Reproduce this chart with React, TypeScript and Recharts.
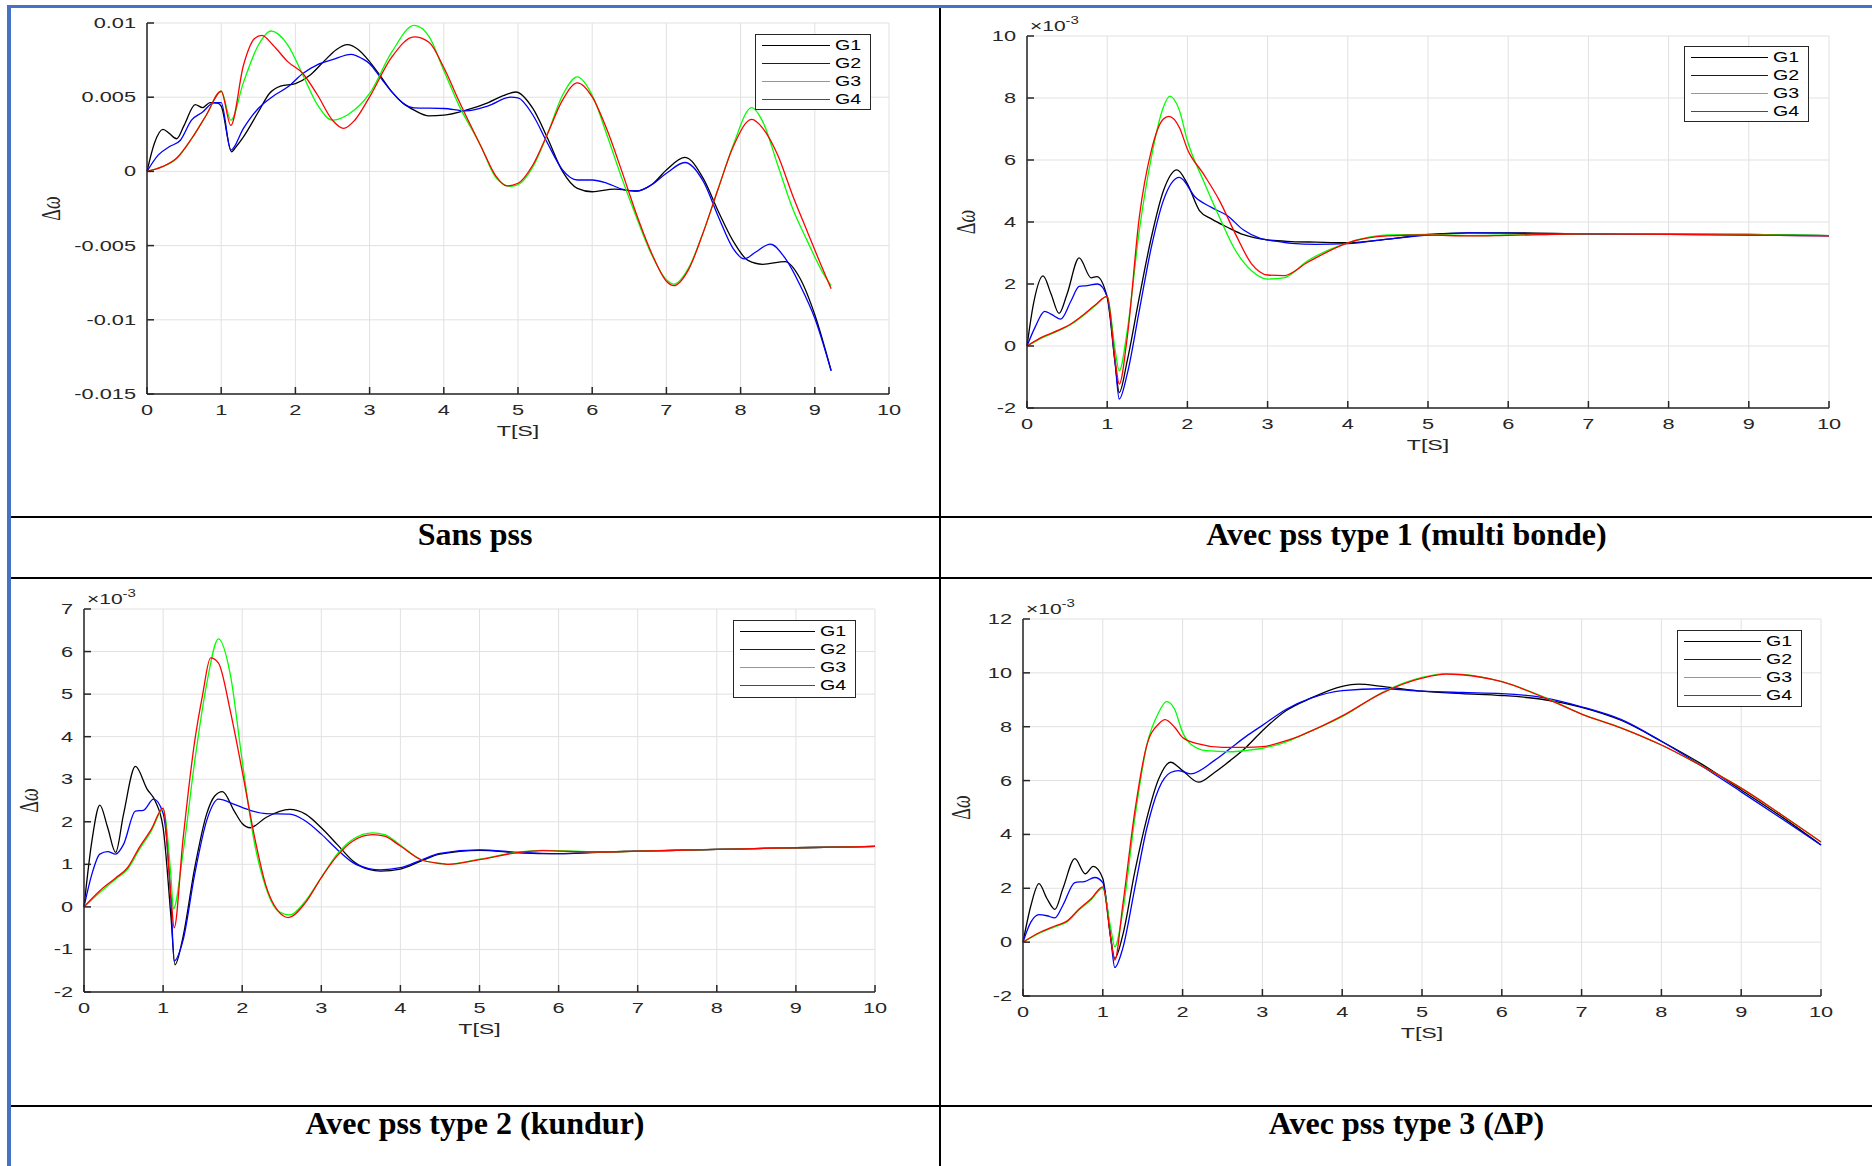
import React from 'react';
import { LineChart, Line, XAxis, YAxis, CartesianGrid, Legend } from 'recharts';

type Pt = [number, number];

const timeTicks = [0, 1, 2, 3, 4, 5, 6, 7, 8, 9, 10];
const genNames = ['G1', 'G2', 'G3', 'G4'];
const genColors = ['#000000', '#0000ff', '#00ff00', '#ff0000'];

// Sans pss : delta omega (pu)
const sansG1: Pt[] = [[0,0],[0.1,0.0019],[0.215,0.00283],[0.3,0.00256],[0.4,0.0022],[0.5,0.0031],[0.65,0.0045],[0.75,0.0043],[0.85,0.00464],[0.95,0.0046],[1.0,0.0044],[1.14,0.00132],[1.2,0.00166],[1.3,0.00233],[1.5,0.004],[1.65,0.00525],[1.8,0.00574],[2.0,0.00592],[2.2,0.0065],[2.4,0.0075],[2.55,0.0082],[2.7,0.00854],[2.85,0.0082],[3.0,0.0074],[3.15,0.0064],[3.3,0.00536],[3.45,0.0046],[3.6,0.00413],[3.8,0.00374],[4.0,0.00379],[4.3,0.00413],[4.6,0.00464],[4.8,0.0051],[4.97,0.00535],[5.2,0.00424],[5.4,0.00222],[5.6,0.0],[5.8,-0.00114],[6.0,-0.00137],[6.3,-0.00119],[6.6,-0.00132],[6.8,-0.0009],[7.0,0.0001],[7.25,0.00094],[7.5,-0.0005],[7.7,-0.0027],[7.9,-0.0047],[8.1,-0.006],[8.3,-0.00626],[8.6,-0.00608],[8.8,-0.0072],[9.0,-0.00966],[9.22,-0.01343]];
const sansG2: Pt[] = [[0,0],[0.15,0.0011],[0.3,0.00166],[0.45,0.0021],[0.6,0.00345],[0.75,0.004],[0.9,0.00464],[1.0,0.00464],[1.13,0.00143],[1.3,0.0029],[1.5,0.00424],[1.7,0.00507],[1.9,0.0057],[2.1,0.0066],[2.3,0.0072],[2.5,0.00753],[2.75,0.00789],[2.9,0.0076],[3.0,0.00726],[3.15,0.0063],[3.3,0.00536],[3.45,0.0046],[3.6,0.00428],[4.0,0.00424],[4.3,0.00408],[4.6,0.00442],[4.9,0.005],[5.0,0.00496],[5.2,0.0038],[5.4,0.00188],[5.6,0.0001],[5.8,-0.00058],[6.0,-0.00058],[6.2,-0.0008],[6.4,-0.00119],[6.6,-0.00132],[6.8,-0.0009],[7.0,-0.00013],[7.25,0.0006],[7.5,-0.0007],[7.7,-0.00305],[7.9,-0.0052],[8.05,-0.0059],[8.2,-0.00545],[8.4,-0.0049],[8.6,-0.00585],[8.8,-0.00765],[9.0,-0.0099],[9.22,-0.01343]];
const sansG3: Pt[] = [[0,0],[0.2,0.0003],[0.4,0.00087],[0.6,0.0022],[0.8,0.0038],[1.0,0.0054],[1.13,0.00345],[1.3,0.006],[1.5,0.0085],[1.67,0.00946],[1.9,0.0085],[2.1,0.0065],[2.3,0.00446],[2.5,0.00345],[2.7,0.0038],[3.0,0.00525],[3.3,0.00805],[3.6,0.00984],[3.8,0.0091],[4.0,0.0068],[4.2,0.0045],[4.5,0.0017],[4.7,-0.0004],[4.9,-0.001],[5.0,-0.0009],[5.2,0.0003],[5.4,0.00256],[5.6,0.00513],[5.8,0.00637],[6.0,0.00513],[6.2,0.00244],[6.4,-0.00047],[6.6,-0.00314],[6.8,-0.0056],[7.0,-0.0073],[7.1,-0.0076],[7.3,-0.0065],[7.5,-0.00406],[7.7,-0.00114],[7.9,0.00177],[8.15,0.0043],[8.3,0.00334],[8.5,0.00043],[8.7,-0.00249],[8.9,-0.0047],[9.1,-0.00675],[9.22,-0.0077]];
const sansG4: Pt[] = [[0,0],[0.2,0.0003],[0.4,0.0009],[0.6,0.0022],[0.8,0.0038],[1.0,0.0054],[1.13,0.0031],[1.3,0.00715],[1.45,0.00895],[1.55,0.00917],[1.7,0.0085],[1.9,0.00738],[2.1,0.0066],[2.3,0.00513],[2.5,0.00345],[2.65,0.0029],[2.8,0.00345],[3.0,0.00502],[3.3,0.00771],[3.6,0.00906],[3.8,0.0087],[4.0,0.007],[4.2,0.0048],[4.5,0.0017],[4.7,-0.0003],[4.85,-0.00098],[5.0,-0.0008],[5.2,0.00043],[5.4,0.00256],[5.6,0.0048],[5.8,0.00597],[6.0,0.00502],[6.2,0.0028],[6.4,0.0],[6.6,-0.00294],[6.8,-0.0055],[7.0,-0.0074],[7.1,-0.0077],[7.3,-0.0066],[7.5,-0.00406],[7.7,-0.00114],[7.9,0.00166],[8.15,0.0035],[8.3,0.0029],[8.5,0.0011],[8.7,-0.0016],[8.9,-0.00406],[9.1,-0.0065],[9.22,-0.0079]];

// PSS type 1 (multi bande), x 10^-3
const type1G1: Pt[] = [[0,0],[0.08,1.35],[0.2,2.26],[0.3,1.68],[0.4,1.05],[0.5,1.68],[0.65,2.84],[0.8,2.2],[0.87,2.24],[1.0,1.57],[1.1,-0.58],[1.15,-1.5],[1.25,-0.47],[1.4,1.57],[1.55,3.5],[1.7,5.0],[1.87,5.68],[2.0,5.23],[2.15,4.37],[2.3,4.1],[2.5,3.83],[2.7,3.59],[3.0,3.42],[3.3,3.37],[3.6,3.35],[4.0,3.33],[4.5,3.45],[5.0,3.6],[5.5,3.65],[6.0,3.65],[7.0,3.62],[8.0,3.61],[9.0,3.6],[10,3.56]];
const type1G2: Pt[] = [[0,0],[0.1,0.6],[0.22,1.12],[0.3,1.03],[0.42,0.87],[0.55,1.46],[0.65,1.92],[0.75,1.95],[0.88,2.0],[1.0,1.6],[1.1,-0.58],[1.15,-1.71],[1.25,-0.9],[1.4,1.14],[1.55,3.18],[1.7,4.69],[1.9,5.44],[2.1,4.8],[2.3,4.47],[2.5,4.2],[2.7,3.74],[2.9,3.48],[3.1,3.38],[3.3,3.31],[3.6,3.28],[4.0,3.3],[4.5,3.45],[5.0,3.58],[5.5,3.65],[6.0,3.64],[7.0,3.6],[8.0,3.6],[9.0,3.58],[10,3.55]];
const type1G3: Pt[] = [[0,0],[0.2,0.28],[0.4,0.5],[0.55,0.7],[0.7,0.98],[0.85,1.3],[1.0,1.6],[1.1,-0.15],[1.15,-0.8],[1.25,0.5],[1.4,3.72],[1.55,6.08],[1.7,7.7],[1.78,8.06],[1.9,7.6],[2.0,6.62],[2.2,5.33],[2.4,4.15],[2.6,3.08],[2.8,2.43],[3.0,2.16],[3.2,2.2],[3.5,2.75],[4.0,3.33],[4.5,3.58],[5.0,3.6],[5.5,3.56],[6.0,3.58],[7.0,3.62],[8.0,3.61],[9.0,3.6],[10,3.56]];
const type1G4: Pt[] = [[0,0],[0.2,0.3],[0.4,0.52],[0.55,0.72],[0.7,1.0],[0.85,1.32],[1.0,1.6],[1.1,-0.47],[1.15,-1.23],[1.25,0.28],[1.4,4.15],[1.55,6.3],[1.7,7.32],[1.77,7.41],[1.9,7.05],[2.0,6.35],[2.2,5.55],[2.4,4.69],[2.6,3.61],[2.8,2.65],[3.0,2.29],[3.2,2.27],[3.5,2.7],[4.0,3.33],[4.5,3.55],[5.0,3.58],[5.5,3.55],[6.0,3.57],[7.0,3.62],[8.0,3.6],[9.0,3.58],[10,3.55]];

// PSS type 2 (Kundur), x 10^-3
const type2G1: Pt[] = [[0,0],[0.1,1.55],[0.2,2.39],[0.3,1.86],[0.4,1.28],[0.5,2.18],[0.65,3.3],[0.8,2.76],[0.9,2.49],[1.0,1.86],[1.1,-0.25],[1.15,-1.36],[1.25,-0.72],[1.4,0.92],[1.55,2.18],[1.65,2.6],[1.75,2.71],[1.9,2.25],[2.0,1.96],[2.1,1.86],[2.3,2.1],[2.6,2.29],[2.8,2.18],[3.0,1.86],[3.2,1.47],[3.4,1.08],[3.6,0.88],[3.75,0.84],[4.0,0.89],[4.25,1.07],[4.5,1.24],[5.0,1.33],[5.5,1.27],[6.0,1.25],[6.5,1.28],[7.0,1.31],[8.0,1.35],[9.0,1.39],[10,1.42]];
const type2G2: Pt[] = [[0,0],[0.1,0.77],[0.2,1.24],[0.3,1.3],[0.4,1.24],[0.5,1.47],[0.65,2.25],[0.75,2.27],[0.88,2.53],[1.0,2.2],[1.1,0.14],[1.14,-1.27],[1.25,-0.8],[1.4,0.77],[1.55,2.02],[1.7,2.53],[1.9,2.41],[2.1,2.27],[2.3,2.19],[2.6,2.18],[2.8,2.02],[3.0,1.71],[3.2,1.35],[3.4,1.04],[3.6,0.9],[3.75,0.87],[4.0,0.92],[4.25,1.09],[4.5,1.26],[5.0,1.34],[5.5,1.28],[6.0,1.25],[6.5,1.29],[7.0,1.31],[8.0,1.35],[9.0,1.39],[10,1.42]];
const type2G3: Pt[] = [[0,0],[0.2,0.34],[0.4,0.65],[0.55,0.88],[0.7,1.35],[0.85,1.78],[1.0,2.29],[1.1,0.69],[1.13,-0.05],[1.25,1.24],[1.4,3.43],[1.55,5.23],[1.7,6.3],[1.85,5.46],[2.0,3.43],[2.15,1.55],[2.3,0.45],[2.45,-0.09],[2.6,-0.19],[2.8,0.14],[3.0,0.69],[3.2,1.24],[3.4,1.59],[3.65,1.74],[3.8,1.7],[4.0,1.45],[4.25,1.12],[4.5,1.02],[4.6,1.0],[5.0,1.12],[5.5,1.29],[5.8,1.33],[6.0,1.32],[6.5,1.29],[7.0,1.31],[8.0,1.35],[9.0,1.39],[10,1.42]];
const type2G4: Pt[] = [[0,0],[0.2,0.38],[0.4,0.68],[0.55,0.92],[0.7,1.4],[0.85,1.82],[1.0,2.32],[1.1,0.22],[1.14,-0.49],[1.25,1.55],[1.4,3.9],[1.5,4.99],[1.6,5.85],[1.7,5.73],[1.85,4.6],[2.0,3.19],[2.15,1.7],[2.3,0.5],[2.45,-0.09],[2.58,-0.25],[2.8,0.1],[3.0,0.69],[3.2,1.2],[3.4,1.55],[3.65,1.7],[3.8,1.66],[4.0,1.43],[4.25,1.12],[4.5,1.02],[4.6,1.0],[5.0,1.11],[5.5,1.28],[5.8,1.32],[6.0,1.31],[6.5,1.29],[7.0,1.31],[8.0,1.35],[9.0,1.39],[10,1.42]];

// PSS type 3 (delta P), x 10^-3
const type3G1: Pt[] = [[0,0],[0.1,1.37],[0.2,2.17],[0.3,1.62],[0.4,1.22],[0.5,1.99],[0.65,3.1],[0.78,2.54],[0.88,2.81],[1.0,2.36],[1.05,1.4],[1.1,0.14],[1.15,-0.6],[1.25,0.26],[1.4,2.6],[1.55,4.58],[1.7,6.06],[1.85,6.68],[2.0,6.37],[2.2,5.94],[2.4,6.3],[2.6,6.75],[2.8,7.25],[3.0,7.85],[3.3,8.6],[3.6,9.05],[4.0,9.5],[4.2,9.58],[4.5,9.5],[5.0,9.32],[5.5,9.23],[6.0,9.16],[6.5,9.02],[7.0,8.72],[7.5,8.23],[8.0,7.46],[8.5,6.62],[9.0,5.65],[9.5,4.67],[10,3.61]];
const type3G2: Pt[] = [[0,0],[0.1,0.75],[0.2,1.02],[0.3,0.98],[0.4,0.9],[0.5,1.37],[0.65,2.21],[0.78,2.26],[0.9,2.4],[1.0,2.21],[1.1,0.14],[1.15,-0.94],[1.25,-0.23],[1.4,1.99],[1.55,4.21],[1.7,5.69],[1.85,6.3],[1.95,6.37],[2.1,6.25],[2.4,6.75],[2.6,7.2],[2.8,7.65],[3.0,8.05],[3.3,8.65],[3.6,9.05],[4.0,9.34],[4.5,9.41],[5.0,9.32],[5.5,9.27],[6.0,9.23],[6.5,9.09],[7.0,8.74],[7.5,8.26],[8.0,7.46],[8.5,6.55],[9.0,5.58],[9.5,4.6],[10,3.61]];
const type3G3: Pt[] = [[0,0],[0.2,0.32],[0.4,0.57],[0.55,0.75],[0.7,1.19],[0.85,1.56],[1.0,2.01],[1.1,0.51],[1.15,-0.17],[1.25,1.12],[1.4,4.58],[1.55,7.3],[1.7,8.53],[1.8,8.93],[1.9,8.65],[2.0,7.79],[2.1,7.36],[2.3,7.11],[2.6,7.07],[2.8,7.12],[3.0,7.2],[3.3,7.44],[3.5,7.7],[4.0,8.37],[4.5,9.27],[5.0,9.83],[5.3,9.97],[5.5,9.94],[6.0,9.67],[6.5,9.14],[7.0,8.47],[7.5,7.95],[8.0,7.32],[8.5,6.55],[9.0,5.72],[9.5,4.74],[10,3.72]];
const type3G4: Pt[] = [[0,0],[0.2,0.35],[0.4,0.6],[0.55,0.78],[0.7,1.22],[0.85,1.6],[1.0,2.05],[1.1,0.14],[1.15,-0.67],[1.25,1.37],[1.4,4.83],[1.55,7.3],[1.7,8.1],[1.78,8.26],[1.9,7.98],[2.0,7.6],[2.2,7.36],[2.5,7.23],[2.8,7.23],[3.0,7.26],[3.3,7.48],[3.5,7.7],[4.0,8.4],[4.5,9.25],[5.0,9.8],[5.3,9.95],[5.5,9.93],[6.0,9.67],[6.5,9.12],[7.0,8.47],[7.5,7.95],[8.0,7.32],[8.5,6.55],[9.0,5.72],[9.5,4.74],[10,3.72]];

const sansTicks = [-0.015, -0.01, -0.005, 0, 0.005, 0.01];
const type1Ticks = [-2, 0, 2, 4, 6, 8, 10];
const type2Ticks = [-2, -1, 0, 1, 2, 3, 4, 5, 6, 7];
const type3Ticks = [-2, 0, 2, 4, 6, 8, 10, 12];

const captions = ['Sans pss', 'Avec pss type 1 (multi bonde)', 'Avec pss type 2 (kundur)', 'Avec pss type 3 (\u0394P)'];

const INK = '#262626';
const FRAME = '#4472c4';
const SX = 1.5; // the pasted figures are stretched sideways
const PAD = { l: 120, t: 30, r: 30, b: 60 };

type Box = { l: number; t: number; r: number; b: number };
type LegendBox = { x: number; y: number; w: number; h: number };

function XTick({ x, y, payload }: any) {
  return (
    <text transform={`translate(${x},${y + 21}) scale(${SX},1)`} textAnchor="middle" fill={INK}
      fontSize={14.5} fontFamily="Liberation Sans">{payload.value}</text>
  );
}

function YTick({ x, y, payload }: any) {
  return (
    <text transform={`translate(${x - 11},${y + 5}) scale(${SX},1)`} textAnchor="end" fill={INK}
      fontSize={14.5} fontFamily="Liberation Sans">{payload.value}</text>
  );
}

function GenLegend({ w, h }: { w: number; h: number }) {
  return (
    <div style={{ width: w, height: h, boxSizing: 'border-box', border: `1.5px solid ${INK}`, background: '#fff', position: 'relative' }}>
      {genNames.map((n, i) => (
        <div key={n} style={{ position: 'absolute', left: 0, top: 9.5 + i * 18.3, width: '100%' }}>
          <div style={{ position: 'absolute', left: 6, top: 0, width: w - 48, borderTop: `1.3px solid ${genColors[i]}` }} />
          <span style={{ position: 'absolute', left: w - 37, top: -8, lineHeight: '16px', fontSize: 14, fontFamily: 'Liberation Sans', color: '#000', transform: `scaleX(${SX - 0.1})`, transformOrigin: 'left center' }}>{n}</span>
        </div>
      ))}
    </div>
  );
}

function Panel({ box, yDomain, yTicks, series, legend, labelGap, exp }: {
  box: Box; yDomain: [number, number]; yTicks: number[]; series: Pt[][]; legend: LegendBox; labelGap: number; exp: boolean;
}) {
  const plotW = box.r - box.l;
  const plotH = box.b - box.t;
  const ox = box.l - PAD.l;
  const oy = box.t - PAD.t;
  return (
    <div style={{ position: 'absolute', left: ox, top: oy }}>
      <LineChart width={plotW + PAD.l + PAD.r} height={plotH + PAD.t + PAD.b}
        margin={{ top: PAD.t, right: PAD.r, bottom: PAD.b - 50, left: PAD.l - 60 }}>
        <CartesianGrid stroke="#e1e1e1" strokeWidth={1} />
        <XAxis dataKey="t" type="number" domain={[0, 10]} ticks={timeTicks} interval={0} height={50}
          tickSize={-7} tickMargin={7} axisLine={{ stroke: INK, strokeWidth: 1.5 }} tickLine={{ stroke: INK, strokeWidth: 1.5 }}
          tick={<XTick />}
          label={{
            content: () => (
              <text transform={`translate(${PAD.l + plotW / 2},${PAD.t + plotH + 42}) scale(${SX},1)`} textAnchor="middle"
                fill={INK} fontSize={15.5} fontFamily="Liberation Sans">T[S]</text>
            ),
          }} />
        <YAxis type="number" domain={yDomain} ticks={yTicks} interval={0} width={60}
          tickSize={-7} tickMargin={7} axisLine={{ stroke: INK, strokeWidth: 1.5 }} tickLine={{ stroke: INK, strokeWidth: 1.5 }}
          tick={<YTick />}
          label={{
            content: () => (
              <g>
                <text transform={`translate(${PAD.l - labelGap},${PAD.t + plotH / 2}) scale(${SX},1) rotate(-90)`} textAnchor="middle"
                  dominantBaseline="central" fill={INK} fontSize={18} fontFamily="Liberation Serif">
                  {'\u0394'}<tspan fontStyle="italic">{'\u03c9'}</tspan>
                </text>
                {exp && (
                  <text transform={`translate(${PAD.l + 3},${PAD.t - 5}) scale(${SX},1)`} fill={INK} fontSize={14} fontFamily="Liberation Sans">
                    {'\u00d710'}<tspan fontSize={10} dy={-7}>-3</tspan>
                  </text>
                )}
              </g>
            ),
          }} />
        {series.map((s, i) => (
          <Line key={genNames[i]} name={genNames[i]} data={s.map(([t, v]) => ({ t, v }))} dataKey="v" type="monotone"
            stroke={genColors[i]} strokeWidth={1.3} dot={false} activeDot={false} isAnimationActive={false} />
        ))}
        <Legend layout="horizontal" verticalAlign="middle" align="center"
          wrapperStyle={{ left: legend.x - ox, top: legend.y - oy, width: legend.w, height: legend.h }}
          content={() => <GenLegend w={legend.w} h={legend.h} />} />
      </LineChart>
    </div>
  );
}

function Caption({ text, left, width, top }: { text: string; left: number; width: number; top: number }) {
  return (
    <div style={{ position: 'absolute', left, width, top, textAlign: 'center', fontFamily: 'Liberation Serif', fontWeight: 'bold', fontSize: 32, lineHeight: '36px', color: '#000' }}>
      {text}
    </div>
  );
}

export default function App() {
  const hLine = (top: number) => (
    <div style={{ position: 'absolute', left: 11, top, width: 1861, height: 2, background: '#000' }} />
  );
  return (
    <div style={{ position: 'absolute', left: 0, top: 0, width: 1872, height: 1166, background: '#fff', overflow: 'hidden' }}>
      <Panel box={{ l: 147, t: 23, r: 889, b: 394 }} yDomain={[-0.015, 0.01]} yTicks={sansTicks}
        series={[sansG1, sansG2, sansG3, sansG4]} legend={{ x: 755, y: 34, w: 116, h: 76 }} labelGap={96} exp={false} />
      <Panel box={{ l: 1027, t: 36, r: 1829, b: 408 }} yDomain={[-2, 10]} yTicks={type1Ticks}
        series={[type1G1, type1G2, type1G3, type1G4]} legend={{ x: 1684, y: 46, w: 125, h: 76 }} labelGap={61} exp />
      <Panel box={{ l: 84, t: 609, r: 875, b: 992 }} yDomain={[-2, 7]} yTicks={type2Ticks}
        series={[type2G1, type2G2, type2G3, type2G4]} legend={{ x: 733, y: 620, w: 123, h: 78 }} labelGap={55} exp />
      <Panel box={{ l: 1023, t: 619, r: 1821, b: 996 }} yDomain={[-2, 12]} yTicks={type3Ticks}
        series={[type3G1, type3G2, type3G3, type3G4]} legend={{ x: 1677, y: 630, w: 125, h: 77 }} labelGap={62} exp />

      <div style={{ position: 'absolute', left: 7, top: 5, width: 1865, height: 3, background: FRAME }} />
      <div style={{ position: 'absolute', left: 7, top: 5, width: 4, height: 1161, background: FRAME }} />
      <div style={{ position: 'absolute', left: 939, top: 8, width: 2, height: 1158, background: '#000' }} />
      {hLine(516)}
      {hLine(577)}
      {hLine(1105)}

      <Caption text={captions[0]} left={11} width={928} top={516} />
      <Caption text={captions[1]} left={941} width={931} top={516} />
      <Caption text={captions[2]} left={11} width={928} top={1105} />
      <Caption text={captions[3]} left={941} width={931} top={1105} />
    </div>
  );
}
